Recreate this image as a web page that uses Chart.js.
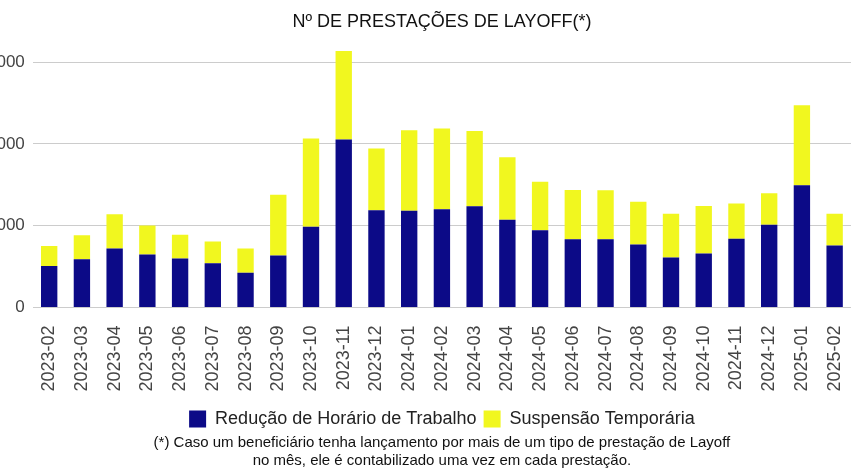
<!DOCTYPE html>
<html>
<head>
<meta charset="utf-8">
<script src="https://cdn.jsdelivr.net/npm/chart.js@4"></script>
<style>
    html, body { margin: 0; padding: 0; background: #fff; overflow: hidden; }
    #wrap { position: absolute; left: -21px; top: 0; width: 880px; height: 472px; }
</style>
</head>
<body>
<div id="wrap"><canvas id="layoff-chart"></canvas></div>
<script>
    "use strict";

    // Dados
    var meses = ["2023-02", "2023-03", "2023-04", "2023-05", "2023-06", "2023-07", "2023-08",
        "2023-09", "2023-10", "2023-11", "2023-12", "2024-01", "2024-02", "2024-03", "2024-04",
        "2024-05", "2024-06", "2024-07", "2024-08", "2024-09", "2024-10", "2024-11", "2024-12",
        "2025-01", "2025-02"];
    var reducaoHorario = [506, 591, 722, 649, 600, 542, 425, 637, 988, 2053, 1188, 1184, 1200,
        1237, 1074, 943, 836, 833, 771, 612, 661, 841, 1012, 1494, 759];
    var suspensaoTemporaria = [245, 291, 417, 355, 290, 266, 297, 743, 1078, 1082, 755, 983, 988,
        922, 763, 593, 601, 602, 523, 535, 580, 432, 384, 979, 388];
    var yTicks = [0, 1000, 2000, 3000];

    var fonte = "'Liberation Sans', Arial, sans-serif";

    var ctx = document.getElementById("layoff-chart").getContext("2d");
    var chart = new Chart(ctx, {
        type: "bar",
        data: {
            labels: meses,
            datasets: [{
                    label: "Redução de Horário de Trabalho",
                    data: reducaoHorario,
                    backgroundColor: "#0c0a87",
                    barPercentage: 0.5,
                    categoryPercentage: 1
                },
                {
                    label: "Suspensão Temporária",
                    data: suspensaoTemporaria,
                    backgroundColor: "#f1f71f",
                    barPercentage: 0.5,
                    categoryPercentage: 1
                }
            ]
        },
        options: {
            responsive: true,
            maintainAspectRatio: false,
            animation: false,
            layout: { padding: { left: 0, right: 8, top: 0, bottom: 0 } },
            scales: {
                x: {
                    stacked: true,
                    grid: { display: false, drawTicks: false },
                    border: { display: false },
                    ticks: {
                        minRotation: 90,
                        maxRotation: 90,
                        autoSkip: false,
                        padding: 18,
                        color: "#444",
                        font: { family: fonte, size: 18 }
                    },
                    afterFit: function (scale) {
                        scale.height = 95.5;
                        scale.paddingLeft = 0;
                        scale.paddingRight = 0;
                    }
                },
                y: {
                    stacked: true,
                    min: 0,
                    max: 3300,
                    grid: { color: "#cccccc", drawTicks: false },
                    border: { display: false },
                    afterBuildTicks: function (scale) {
                        scale.ticks = yTicks.map(function (v) { return { value: v }; });
                    },
                    ticks: {
                        padding: 8,
                        color: "#444",
                        font: { family: fonte, size: 17 },
                        callback: function (value) { return String(value); }
                    }
                }
            },
            plugins: {
                title: {
                    display: true,
                    text: "Nº DE PRESTAÇÕES DE LAYOFF(*)",
                    fullSize: false,
                    color: "#111",
                    padding: { top: 11, bottom: 5 },
                    font: { family: fonte, size: 18, weight: "normal", lineHeight: 1.2 }
                },
                legend: {
                    position: "bottom",
                    fullSize: false,
                    labels: {
                        boxWidth: 17,
                        boxHeight: 17,
                        padding: 7,
                        color: "#222",
                        font: { family: fonte, size: 18 }
                    }
                },
                subtitle: {
                    display: true,
                    position: "bottom",
                    fullSize: false,
                    text: ["(*) Caso um beneficiário tenha lançamento por mais de um tipo de prestação de Layoff",
                        "no mês, ele é contabilizado uma vez em cada prestação."],
                    color: "#111",
                    padding: { top: -4, bottom: 2 },
                    font: { family: fonte, size: 15, lineHeight: 1.2 }
                },
                tooltip: { enabled: false }
            }
        }
    });
</script>
</body>
</html>
